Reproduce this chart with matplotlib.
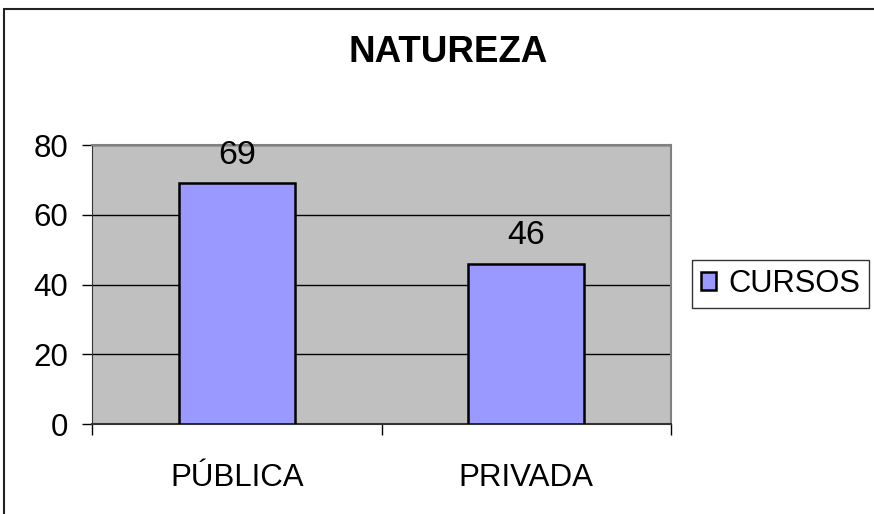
import matplotlib
matplotlib.use("Agg")
import matplotlib.pyplot as plt
from matplotlib.patches import Rectangle

categories = ["PÚBLICA", "PRIVADA"]
cursos = [69, 46]
yticks = [0, 20, 40, 60, 80]

plt.rcParams["font.family"] = ["Liberation Sans", "DejaVu Sans"]

fig = plt.figure(figsize=(8.74, 5.14), dpi=100)
ax = fig.add_axes([92 / 874, 90 / 514, 579 / 874, 279 / 514])

# outer chart border (Excel style)
fig.patches.append(Rectangle((4 / 874, -0.02), 1.0, (514 - 9) / 514 + 0.02,
                             transform=fig.transFigure, fill=False,
                             edgecolor="#222222", linewidth=1.5))

ax.set_facecolor("#C0C0C0")
x = list(range(len(categories)))
bars = ax.bar(x, cursos, width=0.4, color="#9999FF", edgecolor="black",
              linewidth=1.8, label="CURSOS", zorder=3)

for xi, v in zip(x, cursos):
    ax.annotate(str(v), (xi, v), xytext=(0, 14), textcoords="offset points",
                ha="center", va="baseline", fontsize=24.5, zorder=4)

ax.set_xlim(-0.5, 1.5)
ax.set_ylim(0, 80)
ax.set_yticks(yticks)
ax.tick_params(axis="y", labelsize=22.5, length=7, width=1, direction="out", pad=10)
ax.set_xticks(x)
ax.set_xticklabels(categories)
ax.tick_params(axis="x", labelsize=22.5, length=0, pad=28)
ax.set_xticks([-0.5, 0.5, 1.5], minor=True)
ax.tick_params(axis="x", which="minor", length=8, width=1, direction="out")

ax.yaxis.grid(True, color="black", linewidth=1, zorder=1)
ax.set_axisbelow(True)

for s in ["top", "right"]:
    ax.spines[s].set_color("#808080")
    ax.spines[s].set_linewidth(1.5)
ax.spines["left"].set_color("#333333")
ax.spines["bottom"].set_color("#333333")
ax.spines["bottom"].set_linewidth(1.5)

fig.text(448 / 874, 1 - 53 / 514, "NATUREZA", ha="center", va="center",
         fontsize=26.5, fontweight="bold")

leg = fig.legend(handles=[bars], labels=["CURSOS"], loc="center left",
                 bbox_to_anchor=(692 / 874, 1 - 284 / 514), fontsize=22.2,
                 frameon=True, fancybox=False, edgecolor="black",
                 handlelength=0.5, handleheight=0.5, handletextpad=0.4,
                 borderpad=0.28, borderaxespad=0)
leg.get_frame().set_linewidth(1)

fig.savefig("out.png", dpi=100)
